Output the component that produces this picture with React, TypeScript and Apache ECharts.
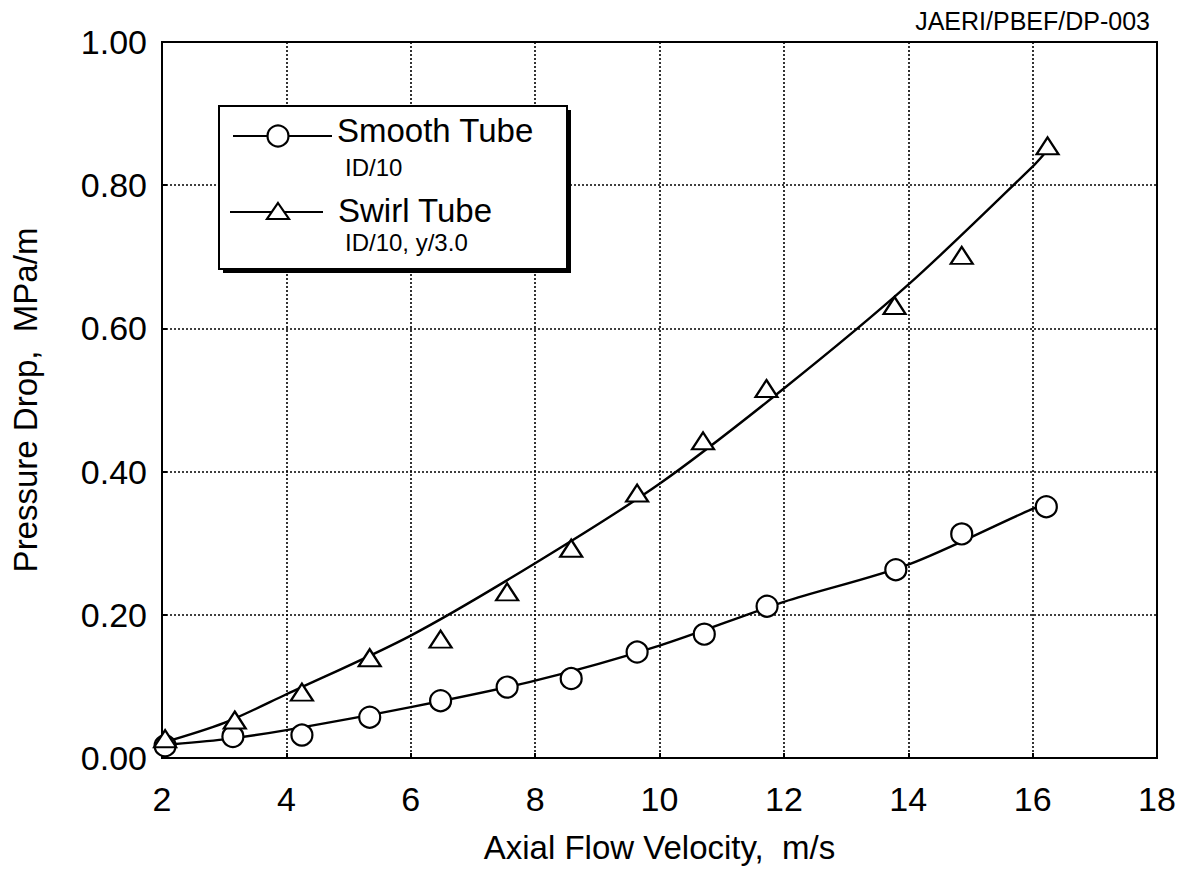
import React, { useEffect, useRef } from "react";
import * as echarts from "echarts";

// Measured data points
const smoothX = [2.05, 3.14, 4.25, 5.34, 6.48, 7.55, 8.58, 9.64, 10.72, 11.73, 13.8, 14.86, 16.22];
const smoothY = [0.017, 0.03, 0.032, 0.057, 0.08, 0.099, 0.111, 0.148, 0.173, 0.212, 0.263, 0.313, 0.351];
const swirlX = [2.05, 3.17, 4.25, 5.34, 6.48, 7.55, 8.58, 9.64, 10.7, 11.72, 13.78, 14.86, 16.24];
const swirlY = [0.027, 0.053, 0.092, 0.14, 0.166, 0.232, 0.293, 0.37, 0.443, 0.516, 0.632, 0.702, 0.855];

// Fitted curves
const fitX = [2, 3, 4, 6, 8, 10, 12, 14, 16, 16.2];
const fitSmoothY = [0.018, 0.026, 0.039, 0.071, 0.108, 0.157, 0.218, 0.27, 0.348, 0.352];
const fitSwirlY = [0.021, 0.049, 0.089, 0.171, 0.272, 0.383, 0.516, 0.661, 0.826, 0.845];

const xTicks = [2, 4, 6, 8, 10, 12, 14, 16, 18];
const yTicks = [0, 0.2, 0.4, 0.6, 0.8, 1.0];

const xTitle = "Axial Flow Velocity,  m/s";
const yTitle = "Pressure Drop,  MPa/m";
const docId = "JAERI/PBEF/DP-003";
const legendNames = ["Smooth Tube", "Swirl Tube"];
const legendSubs = ["ID/10", "ID/10, y/3.0"];

const FONT = "Liberation Sans, Arial, Helvetica, sans-serif";

export default function App() {
  const ref = useRef<HTMLDivElement>(null);
  useEffect(() => {
    if (!ref.current) return;
    const chart = echarts.init(ref.current, undefined, { renderer: "svg" });
    const zip = (xs: number[], ys: number[]) => xs.map((x, i) => [x, ys[i]]);
    const option: any = {
      animation: false,
      backgroundColor: "#fff",
      grid: {
        left: 162,
        right: 29,
        top: 42,
        bottom: 120,
        show: true,
        borderColor: "#000",
        borderWidth: 2,
        backgroundColor: "transparent",
      },
      xAxis: {
        type: "value",
        min: xTicks[0],
        max: xTicks[xTicks.length - 1],
        interval: 2,
        name: xTitle,
        nameLocation: "middle",
        nameGap: 73,
        nameTextStyle: { fontFamily: FONT, fontSize: 33, color: "#000" },
        axisLine: { show: true, lineStyle: { color: "#000", width: 2 } },
        axisTick: { show: true, inside: true, length: 5, lineStyle: { color: "#000", width: 2 } },
        axisLabel: { fontFamily: FONT, fontSize: 34, color: "#000", margin: 24 },
        splitLine: { show: true, lineStyle: { color: "#000", width: 1.6, type: [2, 2] } },
      },
      yAxis: {
        type: "value",
        min: yTicks[0],
        max: yTicks[yTicks.length - 1],
        interval: 0.2,
        name: yTitle,
        nameLocation: "middle",
        nameGap: 120,
        nameTextStyle: { fontFamily: FONT, fontSize: 33, color: "#000" },
        axisLine: { show: true, lineStyle: { color: "#000", width: 2 } },
        axisTick: { show: true, inside: true, length: 5, lineStyle: { color: "#000", width: 2 } },
        axisLabel: {
          fontFamily: FONT,
          fontSize: 34,
          color: "#000",
          margin: 15,
          formatter: (v: number) => v.toFixed(2),
        },
        splitLine: { show: true, lineStyle: { color: "#000", width: 1.6, type: [2, 2] } },
      },
      series: [
        {
          type: "line",
          data: zip(fitX, fitSmoothY),
          smooth: 0.3,
          showSymbol: false,
          lineStyle: { color: "#000", width: 2.4 },
          z: 2,
        },
        {
          type: "line",
          data: zip(fitX, fitSwirlY),
          smooth: 0.3,
          showSymbol: false,
          lineStyle: { color: "#000", width: 2.4 },
          z: 2,
        },
        {
          type: "scatter",
          data: zip(smoothX, smoothY),
          symbol: "circle",
          symbolSize: 21,
          itemStyle: { color: "#fff", borderColor: "#000", borderWidth: 2.2, opacity: 1 },
          z: 3,
        },
        {
          type: "scatter",
          data: zip(swirlX, swirlY),
          symbol: "triangle",
          symbolSize: [22, 17],
          itemStyle: { color: "#fff", borderColor: "#000", borderWidth: 2.2, opacity: 1 },
          z: 3,
        },
      ],
      graphic: [
        {
          type: "text",
          right: 36,
          top: 8,
          style: { text: docId, font: `25px ${FONT}`, fill: "#000" },
        },
        // legend shadow + box
        {
          type: "rect",
          shape: { x: 223, y: 110, width: 348, height: 163 },
          style: { fill: "#000" },
          z: 10,
        },
        {
          type: "rect",
          shape: { x: 219, y: 106, width: 348, height: 163 },
          style: { fill: "#fff", stroke: "#000", lineWidth: 2 },
          z: 11,
        },
        {
          type: "line",
          shape: { x1: 233, y1: 136, x2: 332, y2: 136 },
          style: { stroke: "#000", lineWidth: 2.2 },
          z: 12,
        },
        {
          type: "circle",
          shape: { cx: 278, cy: 136, r: 10.5 },
          style: { fill: "#fff", stroke: "#000", lineWidth: 2.2 },
          z: 13,
        },
        {
          type: "line",
          shape: { x1: 230, y1: 212, x2: 323, y2: 212 },
          style: { stroke: "#000", lineWidth: 2.2 },
          z: 12,
        },
        {
          type: "polygon",
          shape: { points: [[278, 203], [289, 219], [267, 219]] },
          style: { fill: "#fff", stroke: "#000", lineWidth: 2.2 },
          z: 13,
        },
        {
          type: "text",
          x: 337,
          y: 130,
          style: { text: legendNames[0], font: `33px ${FONT}`, fill: "#000", verticalAlign: "middle" },
          z: 13,
        },
        {
          type: "text",
          x: 345,
          y: 167,
          style: { text: legendSubs[0], font: `24px ${FONT}`, fill: "#000", verticalAlign: "middle" },
          z: 13,
        },
        {
          type: "text",
          x: 338,
          y: 210,
          style: { text: legendNames[1], font: `33px ${FONT}`, fill: "#000", verticalAlign: "middle" },
          z: 13,
        },
        {
          type: "text",
          x: 345,
          y: 242,
          style: { text: legendSubs[1], font: `24px ${FONT}`, fill: "#000", verticalAlign: "middle" },
          z: 13,
        },
      ],
    };
    chart.setOption(option);
    return () => chart.dispose();
  }, []);
  return (
    <div
      ref={ref}
      style={{ position: "fixed", left: 0, top: 0, width: 1186, height: 878, background: "#fff" }}
    />
  );
}
